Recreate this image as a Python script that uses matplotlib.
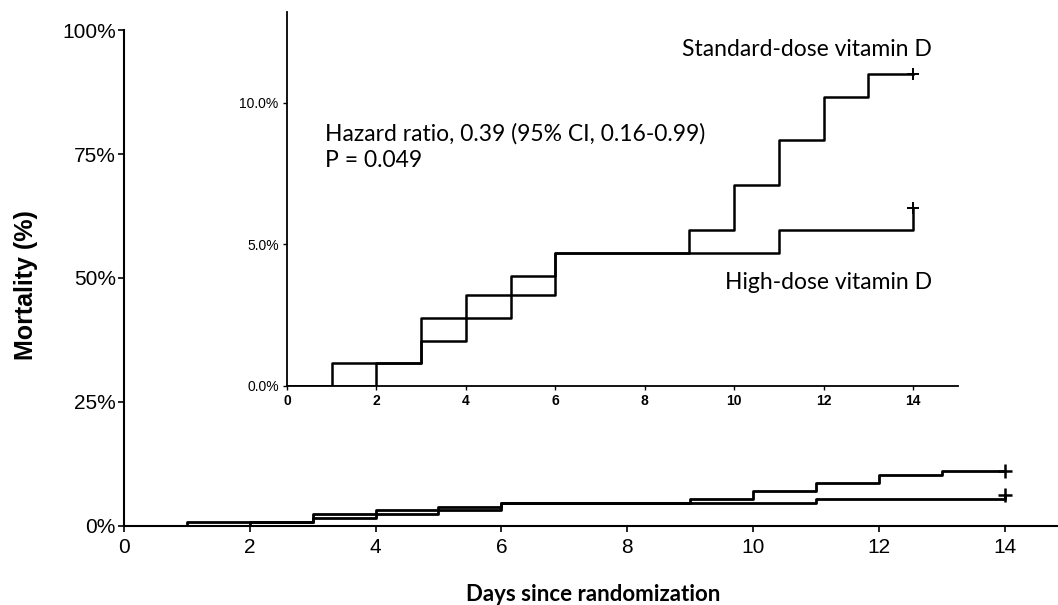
import numpy as np
import matplotlib
matplotlib.use("Agg")
import matplotlib.pyplot as plt

# Kaplan-Meier style step data (cumulative mortality, %)
std_days = [0, 1, 3, 5, 6, 9, 10, 11, 12, 13, 14]
std_pct = [0.0, 0.8, 2.4, 3.9, 4.7, 5.5, 7.1, 8.7, 10.2, 11.0, 11.0]
high_days = [0, 2, 3, 4, 6, 11, 14]
high_pct = [0.0, 0.8, 1.6, 3.2, 4.7, 5.5, 6.3]

main_yticks = [0, 25, 50, 75, 100]
main_xticks = [0, 2, 4, 6, 8, 10, 12, 14]
inset_yticks = [0, 5, 10]
inset_xticks = [0, 2, 4, 6, 8, 10, 12, 14]

hr_text = "Hazard ratio, 0.39 (95% CI, 0.16-0.99)\nP = 0.049"
label_std = "Standard-dose vitamin D"
label_high = "High-dose vitamin D"

fig = plt.figure(figsize=(10.58, 6.05), dpi=100)

# main axes
ax = fig.add_axes([0.1172, 0.1306, 0.8828, 0.8198])
ax.step(std_days, std_pct, where="post", color="black", lw=2)
ax.step(high_days, high_pct, where="post", color="black", lw=2)
ax.plot([std_days[-1]], [std_pct[-1]], marker="+", ms=10, mew=1.8, color="black")
ax.plot([high_days[-1]], [high_pct[-1]], marker="+", ms=10, mew=1.8, color="black")
ax.set_xlim(0, 14.85)
ax.set_ylim(0, 100)
ax.set_yticks(main_yticks)
ax.set_yticklabels([f"{v}%" for v in main_yticks], fontsize=15, family="Liberation Sans")
ax.set_xticks(main_xticks)
ax.set_xticklabels([str(v) for v in main_xticks], fontsize=15, family="Liberation Sans")
ax.spines["top"].set_visible(False)
ax.spines["right"].set_visible(False)
ax.spines["left"].set_linewidth(1.5)
ax.spines["bottom"].set_linewidth(1.5)
ax.tick_params(length=4, width=1.2)
ax.tick_params(axis="x", pad=5)
ax.tick_params(axis="y", pad=2)
ax.set_ylabel("Mortality (%)", fontsize=18, fontweight="bold", family="Liberation Sans")
ax.yaxis.set_label_coords(-0.092, 0.485)
ax.set_xlabel("Days since randomization", fontsize=16, fontweight="bold", family="Lato")
ax.xaxis.set_label_coords(0.502, -0.116)

# inset axes
ins = fig.add_axes([0.2713, 0.362, 0.634, 0.618])
ins.step(std_days, std_pct, where="post", color="black", lw=1.8)
ins.step(high_days, high_pct, where="post", color="black", lw=1.8)
ins.plot([std_days[-1]], [std_pct[-1]], marker="+", ms=8, mew=1.4, color="black")
ins.plot([high_days[-1]], [high_pct[-1]], marker="+", ms=8, mew=1.4, color="black")
ins.set_xlim(0, 15)
ins.set_ylim(0, 13.2)
ins.set_yticks(inset_yticks)
ins.set_yticklabels([f"{v:.1f}%" for v in inset_yticks], fontsize=10, family="Liberation Sans")
ins.set_xticks(inset_xticks)
ins.set_xticklabels([str(v) for v in inset_xticks], fontsize=10, fontweight="bold", family="Liberation Sans")
ins.spines["top"].set_visible(False)
ins.spines["right"].set_visible(False)
ins.spines["left"].set_linewidth(1.3)
ins.spines["bottom"].set_linewidth(1.3)
ins.tick_params(length=3, width=1, pad=3)
ins.patch.set_alpha(0)

ins.text(0.85, 8.43, hr_text, fontsize=16.5, family="Lato", va="center", ha="left", linespacing=1.3)
ins.text(14.43, 11.87, label_std, fontsize=16.5, family="Lato", va="center", ha="right")
ins.text(14.43, 3.64, label_high, fontsize=16.5, family="Lato", va="center", ha="right")

fig.savefig("out.png", dpi=100)
